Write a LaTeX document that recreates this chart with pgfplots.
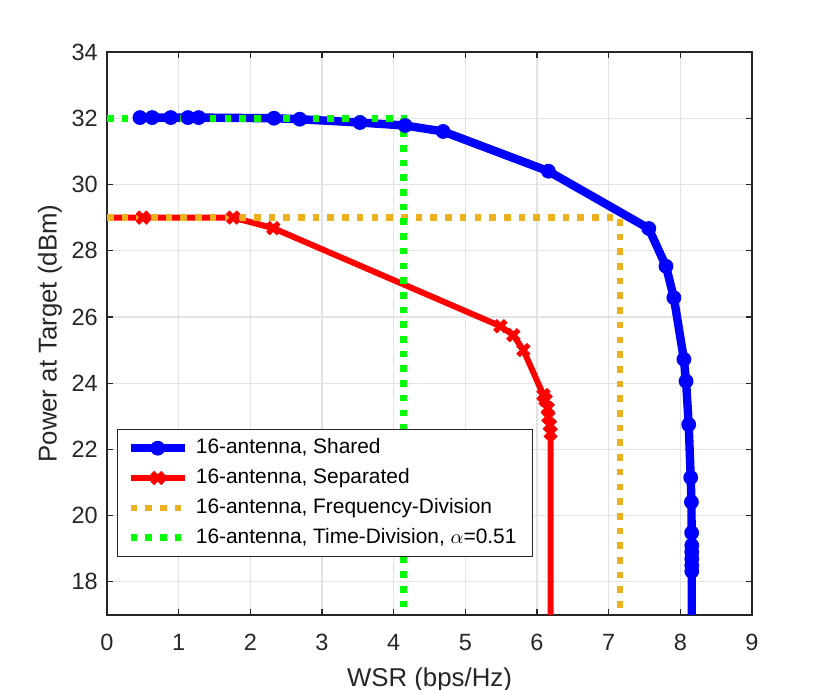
\documentclass[border=0pt]{standalone}
\usepackage{fontspec}
\setmainfont{Liberation Sans}
\usepackage{pgfplots}
\pgfplotsset{compat=1.18}
\definecolor{mblue}{rgb}{0,0,1}
\definecolor{mred}{rgb}{1,0,0}
\definecolor{myellow}{rgb}{0.929,0.694,0.125}
\definecolor{mgreen}{rgb}{0,1,0}
\definecolor{axgray}{rgb}{0.15,0.15,0.15}
\begin{document}
\begin{tikzpicture}
\path[use as bounding box] (-53.5pt,-37.5pt) rectangle (361.5pt,307.5pt);
\begin{axis}[
  at={(0,0)}, anchor=south west,
  scale only axis, width=322.5pt, height=281.5pt,
  xmin=0, xmax=9, ymin=17, ymax=34,
  xtick={0,1,2,3,4,5,6,7,8,9}, ytick={18,20,22,24,26,28,30,32,34},
  tick align=inside, major tick length=3.2pt,
  grid=major, major grid style={color=black!11, line width=0.6pt},
  axis line style={axgray, line width=0.6pt},
  every tick/.style={axgray, line width=0.6pt},
  tick label style={font=\fontsize{11.75}{14}\selectfont, text=axgray},
  /pgf/number format/assume math mode=true,
  xticklabel style={yshift=-6.1pt},
  yticklabel style={xshift=-1.1pt},
  xlabel={WSR (bps/Hz)}, ylabel={Power at Target (dBm)},
  every axis x label/.style={at={(rel axis cs:0.5,-0.1155)}, anchor=center, font=\fontsize{12.9}{15}\selectfont, text=axgray},
  every axis y label/.style={at={(rel axis cs:-0.0884,0.5)}, anchor=center, rotate=90, font=\fontsize{12.9}{15}\selectfont, text=axgray},
  legend cell align=left,
  legend style={at={(0.0155,0.103)}, anchor=south west, draw=axgray, line width=0.5pt, fill=white,
    inner xsep=4.5pt, inner ysep=2pt, column sep=0pt, row sep=0pt,
    font=\fontsize{10.45}{12}\selectfont,
    nodes={inner xsep=3.5pt, inner ysep=2.5pt, text height=7.7pt, text depth=2.2pt}},
  legend image code/.code={\draw[#1, mark indices={2}] plot coordinates {(0pt,0pt) (13.5pt,0pt) (27pt,0pt)};},
]
\addplot[mblue, line width=4.2pt, line join=round, mark=*, mark size=3.2pt,
  mark options={solid, line width=1pt, fill=mblue},
  mark indices={1,2,3,4,5,6,7,8,9,10,11,12,13,14,15,16,17,18,19,20,21,22,23,24,25}] table {
x y
0.46 32.02
0.63 32.02
0.89 32.02
1.13 32.02
1.28 32.02
2.33 32.00
2.69 31.97
3.53 31.87
4.16 31.78
4.69 31.60
6.16 30.40
7.56 28.67
7.80 27.53
7.91 26.58
8.05 24.72
8.08 24.06
8.117 22.75
8.145 21.15
8.155 20.41
8.158 19.48
8.16 19.10
8.16 18.90
8.16 18.70
8.16 18.50
8.16 18.32
8.16 16.00
};
\addlegendentry{16-antenna, Shared}
\addplot[mred, line width=3pt, line join=round, mark=x, mark size=3.8pt,
  mark options={solid, line width=2.6pt},
  mark indices={2,3,4,5,6,7,8,9,10,11,12,13}] table {
x y
0.07 29.00
0.50 29.00
1.76 29.00
2.32 28.68
5.49 25.72
5.67 25.45
5.81 25.00
6.09 23.64
6.12 23.49
6.15 23.24
6.16 22.98
6.18 22.73
6.19 22.50
6.19 16.00
};
\addlegendentry{16-antenna, Separated}
\addplot[myellow, line width=3.3pt, dash pattern=on 3.3pt off 4.05pt, no marks] coordinates {(0,29) (7.16,29) (7.16,16)};
\addlegendentry{16-antenna, Frequency-Division}
\addplot[mgreen, line width=3.3pt, dash pattern=on 3.3pt off 4.05pt, no marks] coordinates {(0,32) (4.14,32) (4.14,16)};
\addlegendentry{16-antenna, Time-Division, $\alpha$=0.51}
\end{axis}
\end{tikzpicture}
\end{document}
